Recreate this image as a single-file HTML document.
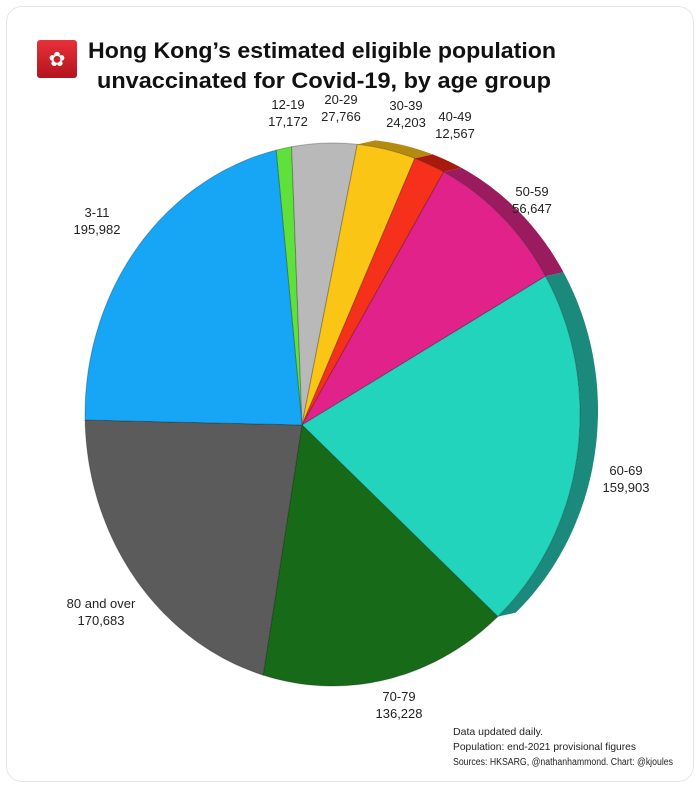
<!DOCTYPE html>
<html><head><meta charset="utf-8"><style>
html,body{margin:0;padding:0;background:#fff;}
body{width:700px;height:790px;position:relative;overflow:hidden;font-family:"Liberation Sans",Arial,sans-serif;}
.card{position:absolute;left:6px;top:6px;width:686px;height:774px;border:1.5px solid #e3e8ec;border-radius:16px;}
</style></head><body>
<div class="card"></div>
<svg id="s" width="700" height="790" style="position:absolute;left:0;top:0">
<defs>
<linearGradient id="fl" x1="0" y1="0" x2="0" y2="1"><stop offset="0" stop-color="#e8313a"/><stop offset="1" stop-color="#b3141e"/></linearGradient>
</defs>
<rect x="37" y="40" width="40" height="38" rx="3" fill="url(#fl)"/>
<text x="57" y="66" font-size="20" fill="#fff" text-anchor="middle">✿</text>
<g font-family="Liberation Sans, Arial, sans-serif" font-weight="bold" font-size="22.5" fill="#111">
<text x="88" y="58" textLength="468" lengthAdjust="spacingAndGlyphs">Hong Kong’s estimated eligible population</text>
<text x="97" y="88" textLength="454" lengthAdjust="spacingAndGlyphs">unvaccinated for Covid-19, by age group</text>
</g>
<g id="pie"></g>
<g font-family="Liberation Sans, Arial, sans-serif" font-size="13" fill="#222" text-anchor="middle">
<text x="288" y="109">12-19</text><text x="288" y="126">17,172</text>
<text x="341" y="104">20-29</text><text x="341" y="121">27,766</text>
<text x="406" y="110">30-39</text><text x="406" y="127">24,203</text>
<text x="455" y="121">40-49</text><text x="455" y="138">12,567</text>
<text x="532" y="196">50-59</text><text x="532" y="213">56,647</text>
<text x="97" y="217">3-11</text><text x="97" y="234">195,982</text>
<text x="626" y="475">60-69</text><text x="626" y="492">159,903</text>
<text x="101" y="608">80 and over</text><text x="101" y="625">170,683</text>
<text x="399" y="701">70-79</text><text x="399" y="718">136,228</text>
</g>
<g font-family="Liberation Sans, Arial, sans-serif" font-size="10.5" fill="#222">
<text x="453" y="735" textLength="90" lengthAdjust="spacingAndGlyphs">Data updated daily.</text>
<text x="453" y="750" textLength="183" lengthAdjust="spacingAndGlyphs">Population: end-2021 provisional figures</text>
<text x="453" y="765" textLength="220" lengthAdjust="spacingAndGlyphs" font-size="10">Sources: HKSARG, @nathanhammond. Chart: @kjoules</text>
</g>
</svg>
<script>
(function(){
var cx=332.5,cy=414.5,rx=247.5,ry=271.5,ax=302,ay=425;
function ang(p){return Math.atan2((p[1]-cy)/ry,(p[0]-cx)/rx);}
var pts=[[275,145],[291,143],[357,148],[412,167],[440,180],[535,283],[503,623],[267,661],[85,420],[275,145]];
var cols=['#5fe03a','#b9b9b9','#fbc515','#f5311c','#e0228a','#22d4bc','#176b18','#5b5b5b','#16a6f5'];
var side=[null,null,'#b58a10','#a81a0e','#9a1c5e','#1b8a7c',null,null,null];
var g=document.getElementById('pie'),ns='http://www.w3.org/2000/svg';
function arc(a0,a1,ox,oy){var d=[],n=60;if(a1<a0)a1+=2*Math.PI;for(var i=0;i<=n;i++){var a=a0+(a1-a0)*i/n;d.push((cx+ox+rx*Math.cos(a)).toFixed(1)+','+(cy+oy+ry*Math.sin(a)).toFixed(1));}return d;}
for(var i=0;i<9;i++){if(!side[i])continue;var a0=ang(pts[i]),a1=ang(pts[i+1]);
 var f=arc(a0,a1,0,0),b=arc(a0,a1,18,-4).reverse();
 var d='M'+f.join('L')+'L'+b.join('L')+'Z';
 var p=document.createElementNS(ns,'path');p.setAttribute('d',d);p.setAttribute('fill',side[i]);g.appendChild(p);}
for(var i=0;i<9;i++){var a0=ang(pts[i]),a1=ang(pts[i+1]);
 var d='M'+ax+','+ay+'L'+arc(a0,a1,0,0).join('L')+'Z';
 var p=document.createElementNS(ns,'path');p.setAttribute('d',d);p.setAttribute('fill',cols[i]);
 p.setAttribute('stroke','rgba(0,0,0,0.25)');p.setAttribute('stroke-width','1');g.appendChild(p);}
})();
</script>
</body></html>
